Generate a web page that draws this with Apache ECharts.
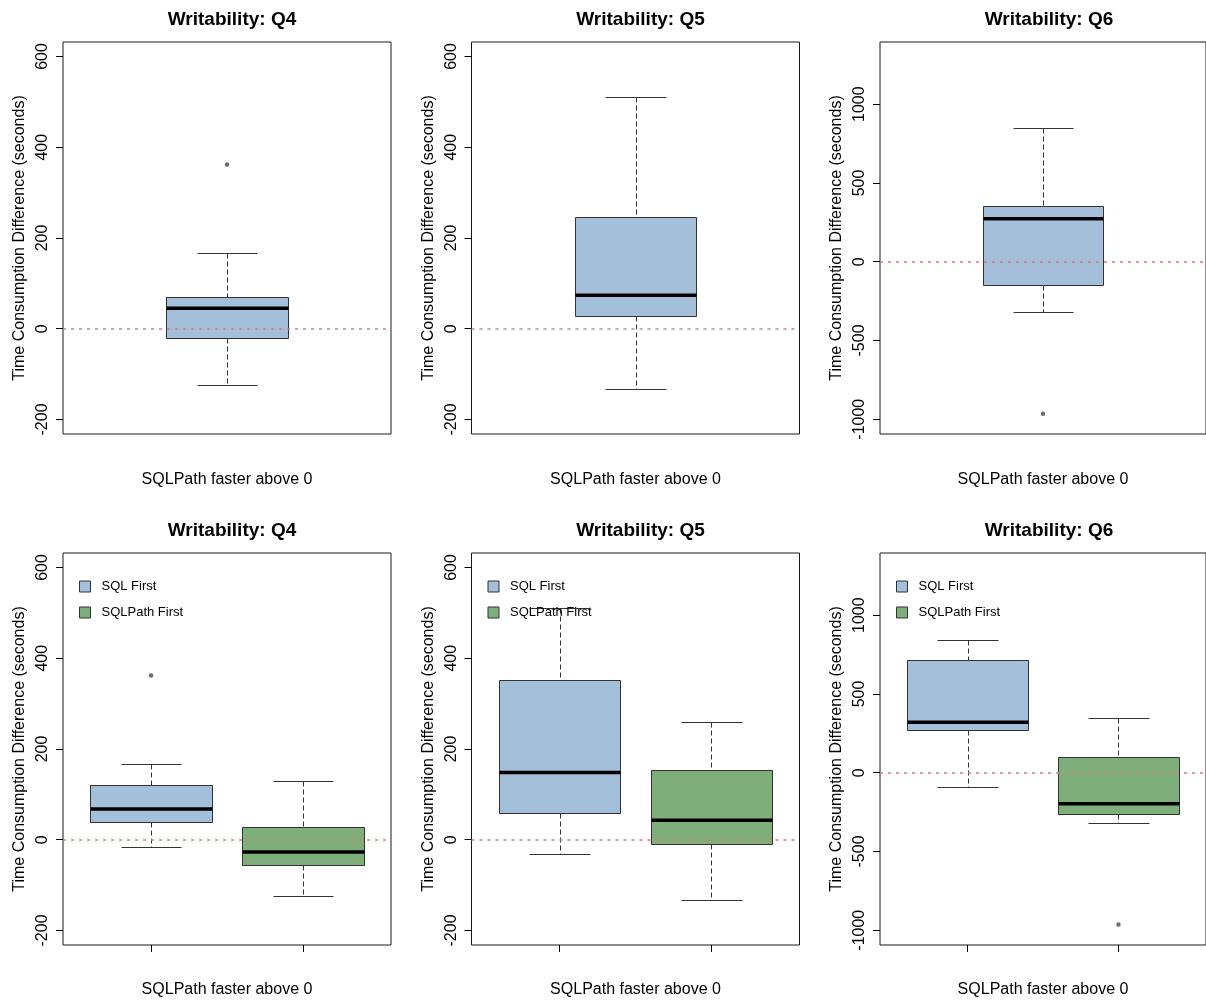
<!DOCTYPE html>
<html>
<head>
<meta charset="utf-8">
<script src="https://cdn.jsdelivr.net/npm/echarts@6/dist/echarts.min.js"></script>
<style>
  html, body { margin: 0; padding: 0; background: #ffffff; }
  #chart { width: 1206px; height: 1000px; }
</style>
</head>
<body>
<div id="chart"></div>
<script>
// ---------------- DATA ----------------
const panelTitles = ['Writability: Q4', 'Writability: Q5', 'Writability: Q6'];
const xAxisTitle = 'SQLPath faster above 0';
const yAxisTitle = 'Time Consumption Difference (seconds)';
const groupNames = ['SQL First', 'SQLPath First'];
const groupPositions = [1, 2];
const tickLabelsQ4Q5 = [-200, 0, 200, 400, 600];
const tickLabelsQ6 = [-1000, -500, 0, 500, 1000];

// five-number summaries: [lower whisker, Q1, median, Q3, upper whisker]
const overallQ4 = [-124, -21, 45, 71, 166];
const overallQ5 = [-133, 27, 74, 247, 510];
const overallQ6 = [-321, -145, 272, 351, 847];
const overallOutliersQ4 = [362];
const overallOutliersQ5 = [];
const overallOutliersQ6 = [-966];

const sqlFirstQ4 = [-16, 40, 68, 121, 166];
const sqlFirstQ5 = [-32, 58, 148, 351, 510];
const sqlFirstQ6 = [-93, 272, 321, 713, 845];
const sqlFirstOutliersQ4 = [362];
const sqlFirstOutliersQ5 = [];
const sqlFirstOutliersQ6 = [];

const sqlPathFirstQ4 = [-123, -56, -27, 29, 129];
const sqlPathFirstQ5 = [-133, -9, 43, 154, 259];
const sqlPathFirstQ6 = [-321, -263, -197, 98, 348];
const sqlPathFirstOutliersQ4 = [];
const sqlPathFirstOutliersQ5 = [];
const sqlPathFirstOutliersQ6 = [-964];

// ---------------- STYLE / LAYOUT ----------------
const BLUE = '#A4BFD9';
const GREEN = '#7EAF7B';
const ZERO_COLOR = '#D67C7C';
const FONT = 'Liberation Sans, Arial, sans-serif';
const colLeft = [63, 471.5, 880];
const rowTop = [42, 553];
const plotW = 328, plotH = 392;
const yRanges = [[-232, 632], [-232, 632], [-1094, 1395]];
const yTicks = [tickLabelsQ4Q5, tickLabelsQ4Q5, tickLabelsQ6];

const overall = [overallQ4, overallQ5, overallQ6];
const overallOut = [overallOutliersQ4, overallOutliersQ5, overallOutliersQ6];
const sqlFirst = [sqlFirstQ4, sqlFirstQ5, sqlFirstQ6];
const sqlFirstOut = [sqlFirstOutliersQ4, sqlFirstOutliersQ5, sqlFirstOutliersQ6];
const sqlPathFirst = [sqlPathFirstQ4, sqlPathFirstQ5, sqlPathFirstQ6];
const sqlPathFirstOut = [sqlPathFirstOutliersQ4, sqlPathFirstOutliersQ5, sqlPathFirstOutliersQ6];

function makeRender(boxW) {
  return function (params, api) {
    const x = api.value(0);
    const lo = api.value(1), q1 = api.value(2), med = api.value(3), q3 = api.value(4), hi = api.value(5);
    const px = v => Math.round(api.coord([v, 0])[0]) + 0.5;
    const py = v => Math.round(api.coord([x, v])[1]) + 0.5;
    const cx = px(x);
    const l = px(x - boxW / 2), r = px(x + boxW / 2);
    const cl = px(x - boxW / 4), cr = px(x + boxW / 4);
    const wStyle = { stroke: '#333', lineWidth: 1, lineDash: [5, 3] };
    const cStyle = { stroke: '#333', lineWidth: 1 };
    return {
      type: 'group',
      children: [
        { type: 'line', shape: { x1: cx, y1: py(hi), x2: cx, y2: py(q3) }, style: wStyle },
        { type: 'line', shape: { x1: cx, y1: py(q1), x2: cx, y2: py(lo) }, style: wStyle },
        { type: 'line', shape: { x1: cl, y1: py(hi), x2: cr, y2: py(hi) }, style: cStyle },
        { type: 'line', shape: { x1: cl, y1: py(lo), x2: cr, y2: py(lo) }, style: cStyle },
        { type: 'rect', shape: { x: l, y: py(q3), width: r - l, height: py(q1) - py(q3) },
          style: { fill: api.visual('color'), stroke: '#333', lineWidth: 1 } },
        { type: 'line', shape: { x1: l, y1: api.coord([x, med])[1], x2: r, y2: api.coord([x, med])[1] },
          style: { stroke: '#000', lineWidth: 3.5 } }
      ]
    };
  };
}

const grids = [], xAxes = [], yAxes = [], series = [], titles = [], legends = [];
const zeroLine = {
  silent: true, symbol: 'none', z: 5, label: { show: false },
  lineStyle: { color: ZERO_COLOR, type: [3, 5], width: 1.5 },
  emphasis: { disabled: true },
  data: [{ yAxis: 0 }]
};

for (let row = 0; row < 2; row++) {
  for (let col = 0; col < 3; col++) {
    const idx = row * 3 + col;
    grids.push({
      left: colLeft[col], top: rowTop[row], width: plotW, height: plotH,
      show: true, borderColor: '#1a1a1a', borderWidth: 1, backgroundColor: 'transparent'
    });
    titles.push({
      text: panelTitles[col],
      left: colLeft[col] + plotW / 2, top: rowTop[row] - 37, textAlign: 'center',
      textStyle: { fontFamily: FONT, fontSize: 19, fontWeight: 'bold', color: '#000' }
    });
    const isBottom = row === 1;
    xAxes.push({
      type: 'value', gridIndex: idx, position: 'bottom',
      min: isBottom ? 0.42 : 0.46, max: isBottom ? 2.58 : 1.54,
      name: xAxisTitle, nameLocation: 'middle', nameGap: isBottom ? 37 : 38,
      nameTextStyle: { fontFamily: FONT, fontSize: 16, color: '#000' },
      axisLine: { show: false, onZero: false },
      axisTick: isBottom
        ? { show: true, customValues: groupPositions, length: 7, lineStyle: { color: '#000' } }
        : { show: false },
      axisLabel: isBottom
        ? { show: true, customValues: groupPositions, formatter: () => '', fontSize: 16 }
        : { show: false },
      splitLine: { show: false }
    });
    yAxes.push({
      type: 'value', gridIndex: idx, position: 'left',
      min: yRanges[col][0], max: yRanges[col][1],
      name: yAxisTitle, nameLocation: 'middle', nameGap: 35, nameRotate: 90,
      nameTextStyle: { fontFamily: FONT, fontSize: 16, color: '#000' },
      axisLine: { show: false, onZero: false },
      axisTick: { show: true, customValues: yTicks[col], length: 7, lineStyle: { color: '#000' } },
      axisLabel: { show: true, customValues: yTicks[col], rotate: 90, margin: 12,
        formatter: v => String(v),
        fontFamily: FONT, fontSize: 16, color: '#000' },
      splitLine: { show: false }
    });

    if (!isBottom) {
      series.push({
        type: 'custom', name: 'All participants ' + panelTitles[col], xAxisIndex: idx, yAxisIndex: idx,
        renderItem: makeRender(0.4),
        itemStyle: { color: BLUE },
        encode: { x: 0, y: [1, 2, 3, 4, 5] },
        data: [[1].concat(overall[col])],
        markLine: zeroLine,
        silent: true
      });
      series.push({
        type: 'scatter', xAxisIndex: idx, yAxisIndex: idx, silent: true,
        symbol: 'emptyCircle', symbolSize: 2.5,
        itemStyle: { color: '#444', borderWidth: 1 },
        data: overallOut[col].map(v => [1, v])
      });
    } else {
      series.push({
        type: 'custom', name: groupNames[0], xAxisIndex: idx, yAxisIndex: idx,
        renderItem: makeRender(0.8),
        itemStyle: { color: BLUE },
        encode: { x: 0, y: [1, 2, 3, 4, 5] },
        data: [[groupPositions[0]].concat(sqlFirst[col])],
        markLine: zeroLine,
        silent: true
      });
      series.push({
        type: 'custom', name: groupNames[1], xAxisIndex: idx, yAxisIndex: idx,
        renderItem: makeRender(0.8),
        itemStyle: { color: GREEN },
        encode: { x: 0, y: [1, 2, 3, 4, 5] },
        data: [[groupPositions[1]].concat(sqlPathFirst[col])],
        silent: true
      });
      series.push({
        type: 'scatter', xAxisIndex: idx, yAxisIndex: idx, silent: true,
        symbol: 'emptyCircle', symbolSize: 2.5,
        itemStyle: { color: '#444', borderWidth: 1 },
        data: sqlFirstOut[col].map(v => [groupPositions[0], v])
          .concat(sqlPathFirstOut[col].map(v => [groupPositions[1], v]))
      });
      legends.push({
        data: groupNames, orient: 'vertical',
        left: colLeft[col] + 16, top: rowTop[row] + 27, padding: 0,
        icon: 'rect', itemWidth: 11, itemHeight: 11, itemGap: 13,
        selectedMode: false,
        itemStyle: { borderColor: '#333', borderWidth: 1 },
        textStyle: { fontFamily: FONT, fontSize: 13, color: '#000', padding: [0, 0, 0, 6] }
      });
    }
  }
}

const chart = echarts.init(document.getElementById('chart'), null, { renderer: 'canvas' });
chart.setOption({
  backgroundColor: '#ffffff',
  animation: false,
  title: titles,
  legend: legends,
  grid: grids,
  xAxis: xAxes,
  yAxis: yAxes,
  series: series
});
</script>
</body>
</html>
